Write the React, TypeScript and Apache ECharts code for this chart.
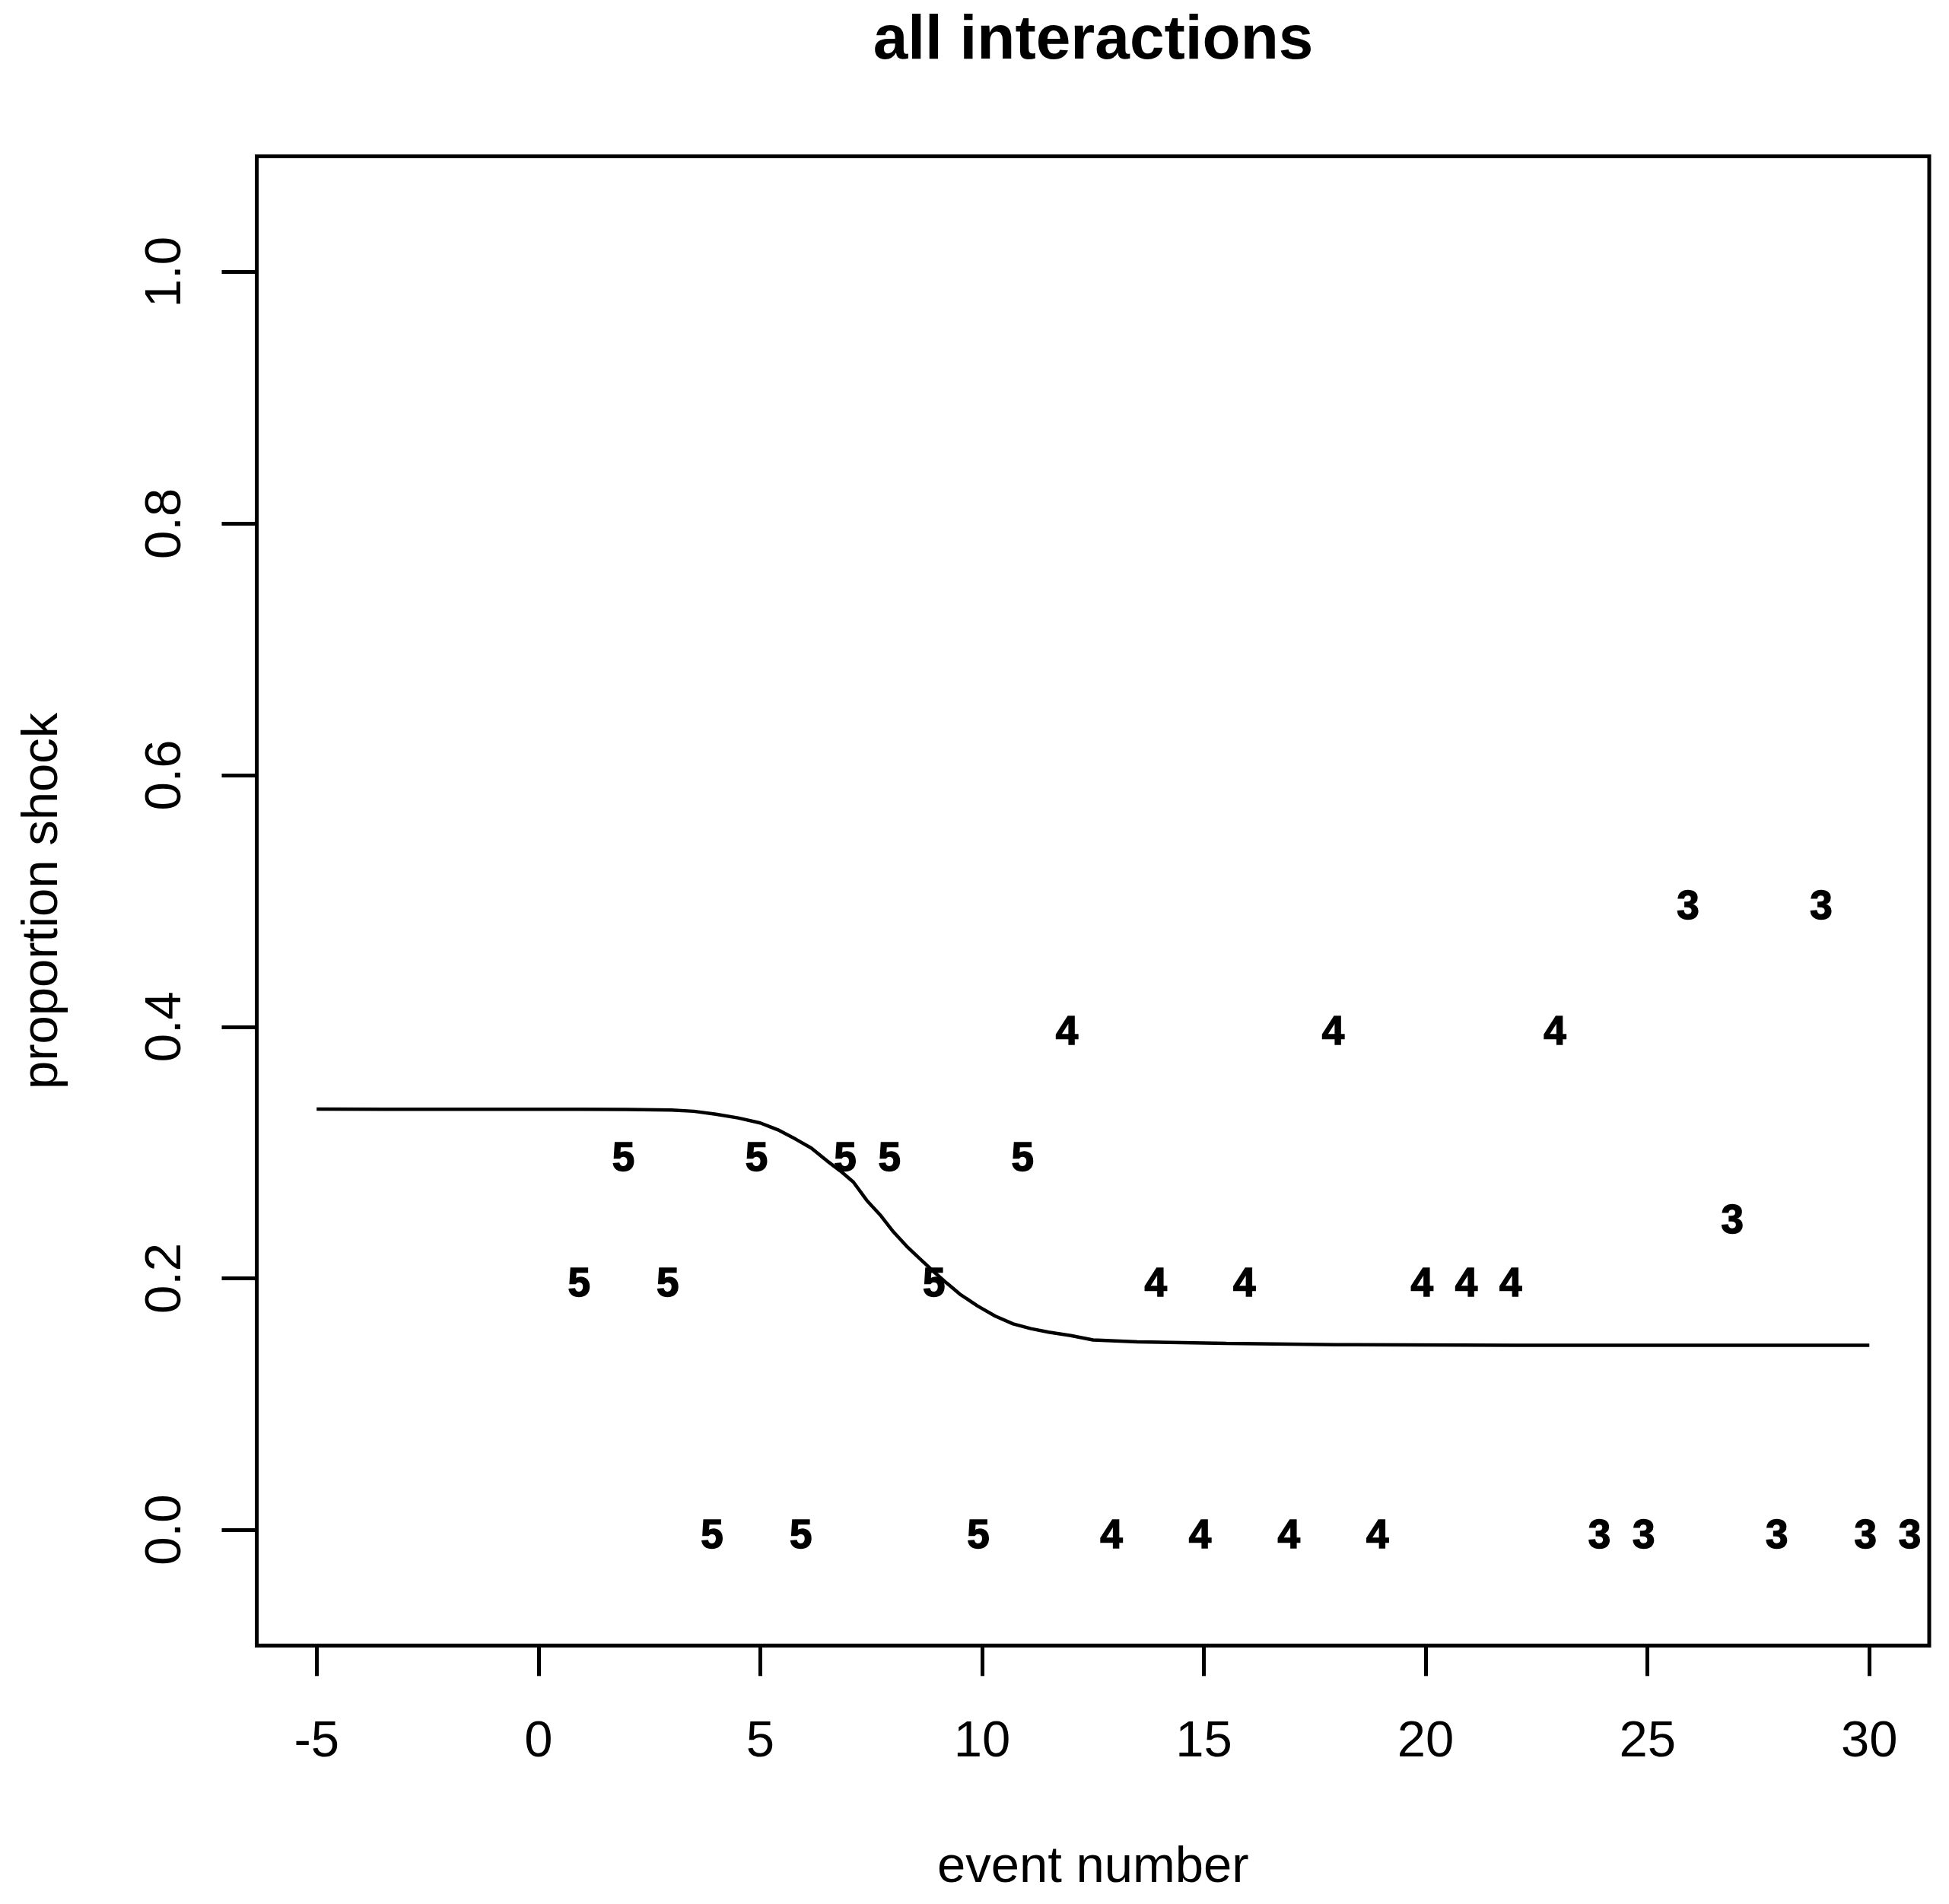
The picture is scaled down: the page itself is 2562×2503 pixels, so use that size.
import React, { useEffect, useRef } from "react";
import * as echarts from "echarts";

const titleText = "all interactions";
const xAxisName = "event number";
const yAxisName = "proportion shock";

const xTicks = [-5, 0, 5, 10, 15, 20, 25, 30];
const yTicks = [0, 0.2, 0.4, 0.6, 0.8, 1.0];

// points labelled "5"
const events5 = [1, 2, 3, 4, 5, 6, 7, 8, 9, 10, 11];
const prop5 = [0.2, 0.3, 0.2, 0.0, 0.3, 0.0, 0.3, 0.3, 0.2, 0.0, 0.3];
// points labelled "4"
const events4 = [12, 13, 14, 15, 16, 17, 18, 19, 20, 21, 22, 23];
const prop4 = [0.4, 0.0, 0.2, 0.0, 0.2, 0.0, 0.4, 0.0, 0.2, 0.2, 0.2, 0.4];
// points labelled "3"
const events3 = [24, 25, 26, 27, 28, 29, 30, 31];
const prop3 = [0.0, 0.0, 0.5, 0.25, 0.0, 0.5, 0.0, 0.0];

// fitted curve
const fitX = [-5, 2, 3, 3.5, 4, 4.5, 5, 5.4, 5.8, 6.15, 6.5, 6.8, 7.1, 7.4, 7.7, 8.0, 8.3, 8.6, 8.9, 9.2, 9.5, 9.9, 10.3, 10.7, 11.1, 11.5, 12.0, 12.5, 13.5, 15.5, 18, 22, 30];
const fitY = [0.3345, 0.3343, 0.3338, 0.3328, 0.3305, 0.3275, 0.3235, 0.318, 0.3106, 0.3035, 0.2935, 0.2855, 0.2765, 0.262, 0.2505, 0.237, 0.2255, 0.2155, 0.2056, 0.1963, 0.1874, 0.178, 0.1699, 0.1638, 0.16, 0.1572, 0.1545, 0.151, 0.1495, 0.1482, 0.1472, 0.1468, 0.1467];

const FONT = '"Liberation Sans", Arial, Helvetica, sans-serif';

function pointSeries(name: string, xs: number[], ys: number[]) {
  return {
    type: "scatter",
    name,
    data: xs.map((x, i) => [x, ys[i]]),
    symbol: "circle",
    symbolSize: 0.01,
    itemStyle: { color: "#000", opacity: 1 },
    silent: true,
    label: {
      show: true,
      position: "inside",
      formatter: name,
      color: "#000",
      opacity: 1,
      fontFamily: FONT,
      fontWeight: "bold",
      fontSize: 53,
      textBorderColor: "#000",
      textBorderWidth: 1.5,
      offset: [-5, 5],
    },
    z: 3,
  };
}

export default function App() {
  const ref = useRef<HTMLDivElement>(null);
  useEffect(() => {
    if (!ref.current) return;
    const chart = echarts.init(ref.current, undefined, { renderer: "svg" });
    const option: any = {
      animation: false,
      backgroundColor: "#fff",
      textStyle: { fontFamily: FONT },
      grid: {
        left: 337.5,
        right: 26,
        top: 205.5,
        bottom: 339.7,
        show: true,
        borderColor: "#000",
        borderWidth: 5,
        backgroundColor: "transparent",
        containLabel: false,
        outerBoundsMode: "none",
      },
      graphic: [
        {
          type: "text",
          x: 1437,
          y: 48,
          style: {
            text: titleText,
            fontFamily: FONT,
            fontSize: 82,
            fontWeight: "bold",
            fill: "#000",
            align: "center",
            verticalAlign: "middle",
            textAlign: "center",
            textVerticalAlign: "middle",
          },
        },
      ],
      xAxis: {
        type: "value",
        min: -6.35,
        max: 31.35,
        name: xAxisName,
        nameLocation: "middle",
        nameGap: 254,
        nameTextStyle: { fontFamily: FONT, fontSize: 67, color: "#000", lineHeight: 67 },
        axisLine: { show: false, onZero: false },
        splitLine: { show: false },
        axisTick: {
          show: true,
          inside: false,
          length: 40,
          customValues: xTicks,
          lineStyle: { color: "#000", width: 5 },
        },
        axisLabel: {
          show: true,
          customValues: xTicks,
          margin: 89,
          fontFamily: FONT,
          fontSize: 67,
          lineHeight: 67,
          color: "#000",
          formatter: (v: number) => String(v),
        },
      },
      yAxis: {
        type: "value",
        min: -0.092,
        max: 1.092,
        name: yAxisName,
        nameLocation: "middle",
        nameGap: 253,
        nameTextStyle: { fontFamily: FONT, fontSize: 67, color: "#000", lineHeight: 67 },
        axisLine: { show: false, onZero: false },
        splitLine: { show: false },
        axisTick: {
          show: true,
          inside: false,
          length: 46,
          customValues: yTicks,
          lineStyle: { color: "#000", width: 5 },
        },
        axisLabel: {
          show: true,
          customValues: yTicks,
          rotate: 90,
          margin: 91,
          fontFamily: FONT,
          fontSize: 67,
          lineHeight: 67,
          color: "#000",
          formatter: (v: number) => v.toFixed(1),
        },
      },
      series: [
        {
          type: "line",
          name: "fit",
          data: fitX.map((x, i) => [x, fitY[i]]),
          showSymbol: false,
          symbol: "none",
          smooth: false,
          silent: true,
          lineStyle: { color: "#000", width: 4.5 },
          z: 2,
        },
        pointSeries("5", events5, prop5),
        pointSeries("4", events4, prop4),
        pointSeries("3", events3, prop3),
      ],
    };
    chart.setOption(option);
    return () => chart.dispose();
  }, []);
  return (
    <div
      ref={ref}
      style={{ position: "absolute", left: 0, top: 0, width: 2562, height: 2503 }}
    />
  );
}
